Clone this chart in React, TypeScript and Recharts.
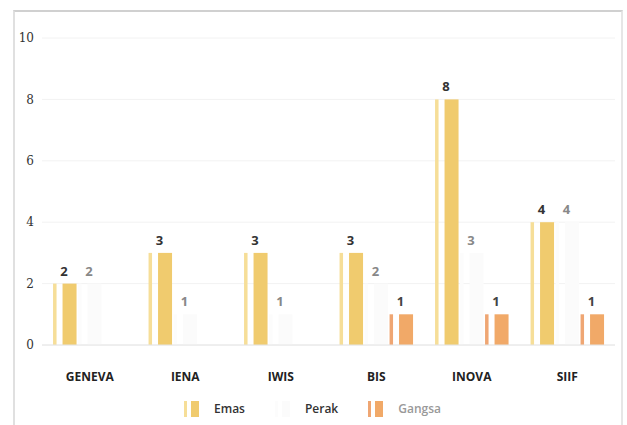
import React from 'react';
import { BarChart, Bar, XAxis, YAxis, CartesianGrid, LabelList, Legend } from 'recharts';

const categories = ['GENEVA', 'IENA', 'IWIS', 'BIS', 'INOVA', 'SIIF'];
const emas = [2, 3, 3, 3, 8, 4];
const perak = [2, 1, 1, 2, 3, 4];
const gangsa = [0, 0, 0, 1, 1, 1];
const yTicks = [0, 2, 4, 6, 8, 10];

const data = categories.map((c, i) => ({ name: c, Emas: emas[i], Perak: perak[i], Gangsa: gangsa[i] }));

const COLORS = {
  Emas: { light: '#F6DE98', main: '#F0CB6E' },
  Perak: { light: '#FCFCFC', main: '#FBFBFB' },
  Gangsa: { light: '#EFA673', main: '#F1A968' },
};

const makeShape = (key: 'Emas' | 'Perak' | 'Gangsa') => (props: any) => {
  const { x, y, width, height } = props;
  if (!height || height <= 0) return <g />;
  const c = COLORS[key];
  return (
    <g>
      <rect x={x + width * 0.06} y={y} width={width * 0.14} height={height} fill={c.light} />
      <rect x={x + width * 0.44} y={y} width={width * 0.56} height={height} fill={c.main} />
    </g>
  );
};

const fmt = (v: any) => (v ? String(v) : '');

const LegendContent = () => {
  const items: { key: 'Emas' | 'Perak' | 'Gangsa'; label: string; color: string }[] = [
    { key: 'Emas', label: 'Emas', color: '#333' },
    { key: 'Perak', label: 'Perak', color: '#333' },
    { key: 'Gangsa', label: 'Gangsa', color: '#999' },
  ];
  return (
    <div style={{ display: 'flex', justifyContent: 'center', alignItems: 'center', fontFamily: 'Open Sans, sans-serif', fontSize: 12, fontWeight: 600, marginTop: 10, paddingLeft: 10 }}>
      {items.map((it, i) => (
        <div key={it.key} style={{ display: 'flex', alignItems: 'center', marginRight: i < 2 ? 30 : 0 }}>
          <svg width={15} height={16} style={{ marginRight: 15 }}>
            <rect x={0} y={0} width={3} height={16} fill={COLORS[it.key].light} />
            <rect x={7} y={0} width={8} height={16} fill={COLORS[it.key].main} />
          </svg>
          <span style={{ color: it.color }}>{it.label}</span>
        </div>
      ))}
    </div>
  );
};

export default function App() {
  return (
    <div style={{ position: 'absolute', left: 0, top: 0, width: 627, height: 425, background: '#fff' }}>
      <div style={{ position: 'absolute', left: 13, top: 10, width: 606, height: 420, borderTop: '2px solid #d0d0d0', borderLeft: '2px solid #e0e0e0', borderRight: '2px solid #e6e6e6' }} />
      <div style={{ position: 'absolute', left: 0, top: 0 }}>
        <BarChart
          width={627}
          height={425}
          data={data}
          margin={{ top: 38, right: 12, bottom: 5, left: 0 }}
          barCategoryGap="10%"
          barGap={0}
        >
          <CartesianGrid vertical={false} stroke="#f2f2f2" />
          <YAxis
            width={42}
            domain={[0, 10]}
            ticks={yTicks}
            axisLine={false}
            tickLine={false}
            tick={{ fontSize: 12, fill: '#333', fontFamily: 'DejaVu Serif, serif' }}
          />
          <XAxis
            dataKey="name"
            height={45}
            axisLine={{ stroke: '#e4e4e4' }}
            tickLine={false}
            tickMargin={21}
            tick={{ fontSize: 12, fontWeight: 700, fill: '#222', fontFamily: 'Open Sans, sans-serif' }}
          />
          <Legend verticalAlign="bottom" height={30} content={<LegendContent />} />
          <Bar dataKey="Emas" isAnimationActive={false} shape={makeShape('Emas')}>
            <LabelList dataKey="Emas" position="top" offset={8} formatter={fmt} style={{ fontSize: 13, fontWeight: 700, fill: '#333', fontFamily: 'Open Sans, sans-serif' }} />
          </Bar>
          <Bar dataKey="Perak" isAnimationActive={false} shape={makeShape('Perak')}>
            <LabelList dataKey="Perak" position="top" offset={8} formatter={fmt} style={{ fontSize: 13, fontWeight: 700, fill: '#888', fontFamily: 'Open Sans, sans-serif' }} />
          </Bar>
          <Bar dataKey="Gangsa" isAnimationActive={false} shape={makeShape('Gangsa')}>
            <LabelList dataKey="Gangsa" position="top" offset={8} formatter={fmt} style={{ fontSize: 13, fontWeight: 700, fill: '#444', fontFamily: 'Open Sans, sans-serif' }} />
          </Bar>
        </BarChart>
      </div>
    </div>
  );
}
